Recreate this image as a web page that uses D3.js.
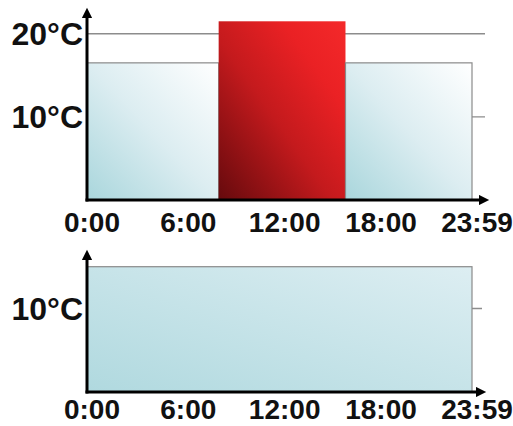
<!DOCTYPE html>
<html>
<head>
<meta charset="utf-8">
<script src="https://cdn.jsdelivr.net/npm/d3@7"></script>
</head>
<body style="margin:0">
<div id="chart"></div>
<script>
// time ticks (hours) and their labels
const hourTicks = [0, 6, 12, 18, 23.98];
const hourLabels = ["0:00", "6:00", "12:00", "18:00", "23:59"];

// upper panel: three heating periods
const topStart = [0, 8.2, 16.1];
const topEnd = [8.2, 16.1, 23.98];
const topTemp = [16.5, 21.5, 16.5];
const topKind = ["cool", "warm", "cool"];
const topTempTicks = [10, 20];

// lower panel: one constant period
const botStart = [0];
const botEnd = [23.98];
const botTemp = [15];
const botKind = ["flat"];
const botTempTicks = [10];

const W = 513, H = 426;

const svg = d3.select("#chart")
    .append("svg")
    .attr("width", W)
    .attr("height", H);

const defs = svg.append("defs");

function grad(id, stops) {
    const g = defs.append("linearGradient")
        .attr("id", id)
        .attr("x1", 0).attr("y1", 1)
        .attr("x2", 1).attr("y2", 0);
    stops.forEach(s => g.append("stop").attr("offset", s[0]).attr("stop-color", s[1]));
}
grad("cool", [[0, "#a9d6dc"], [0.5, "#dcedf1"], [1, "#ffffff"]]);
grad("warm", [[0, "#650a0d"], [0.45, "#c41a1d"], [0.75, "#ea2124"], [1, "#f4292a"]]);
grad("flat", [[0, "#b0d9df"], [1, "#ddeef2"]]);

const arrow = defs.append("marker")
    .attr("id", "arrow")
    .attr("viewBox", "0 0 10 10")
    .attr("refX", 1).attr("refY", 5)
    .attr("markerWidth", 4).attr("markerHeight", 3.4)
    .attr("markerUnits", "strokeWidth")
    .attr("orient", "auto");
arrow.append("path").attr("d", "M0,0 L10,5 L0,10 Z").attr("fill", "#000");

const x = d3.scaleLinear().domain([0, 23.98]).range([87, 472]);

function panel(opts) {
    const y = d3.scaleLinear().domain([0, opts.yMax]).range([opts.base, opts.top]);
    const g = svg.append("g");

    // grid lines behind the bars
    g.selectAll("line.grid")
        .data(opts.ticks)
        .enter()
        .append("line")
        .attr("class", "grid")
        .attr("x1", x(0)).attr("x2", opts.gridEnd)
        .attr("y1", d => y(d)).attr("y2", d => y(d))
        .attr("stroke", "#8c8c8c")
        .attr("stroke-width", 1.4);

    const idx = d3.range(opts.start.length);
    g.selectAll("rect")
        .data(idx)
        .enter()
        .append("rect")
        .attr("x", i => x(opts.start[i]))
        .attr("y", i => y(opts.temp[i]))
        .attr("width", i => x(opts.end[i]) - x(opts.start[i]))
        .attr("height", i => y(0) - y(opts.temp[i]))
        .attr("fill", i => `url(#${opts.kind[i]})`)
        .attr("stroke", i => opts.kind[i] === "warm" ? "none" : "#8a8a8a")
        .attr("stroke-width", 1.2);

    // axes with arrows
    g.append("line")
        .attr("x1", x(0)).attr("y1", y(0) + 1.5)
        .attr("x2", x(0)).attr("y2", opts.top + 9)
        .attr("stroke", "#000").attr("stroke-width", 3)
        .attr("marker-end", "url(#arrow)");
    g.append("line")
        .attr("x1", x(0) - 1.5).attr("y1", y(0))
        .attr("x2", opts.arrowEnd - 9).attr("y2", y(0))
        .attr("stroke", "#000").attr("stroke-width", 3)
        .attr("marker-end", "url(#arrow)");

    // temperature labels
    g.selectAll("text.ylab")
        .data(opts.ticks)
        .enter()
        .append("text")
        .attr("class", "ylab")
        .attr("x", x(0) - 4)
        .attr("y", d => y(d))
        .attr("dy", "0.36em")
        .attr("text-anchor", "end")
        .style("font-family", "'Liberation Sans', Arial")
        .style("font-weight", "bold")
        .style("font-size", "32px")
        .attr("fill", "#111")
        .text(d => d + "°C");

    // time labels
    g.selectAll("text.xlab")
        .data(hourTicks)
        .enter()
        .append("text")
        .attr("class", "xlab")
        .attr("x", d => x(d) + 5)
        .attr("y", y(0) + opts.labelPad)
        .attr("text-anchor", "middle")
        .style("font-family", "'Liberation Sans', Arial")
        .style("font-weight", "bold")
        .style("font-size", "28px")
        .attr("fill", "#111")
        .text((d, i) => hourLabels[i]);
}

panel({ start: topStart, end: topEnd, temp: topTemp, kind: topKind, ticks: topTempTicks,
        base: 200, top: 8, yMax: 23.1, gridEnd: 485, arrowEnd: 489, labelPad: 32 });
panel({ start: botStart, end: botEnd, temp: botTemp, kind: botKind, ticks: botTempTicks,
        base: 392, top: 250, yMax: 17, gridEnd: 482, arrowEnd: 486, labelPad: 27 });
</script>
</body>
</html>
